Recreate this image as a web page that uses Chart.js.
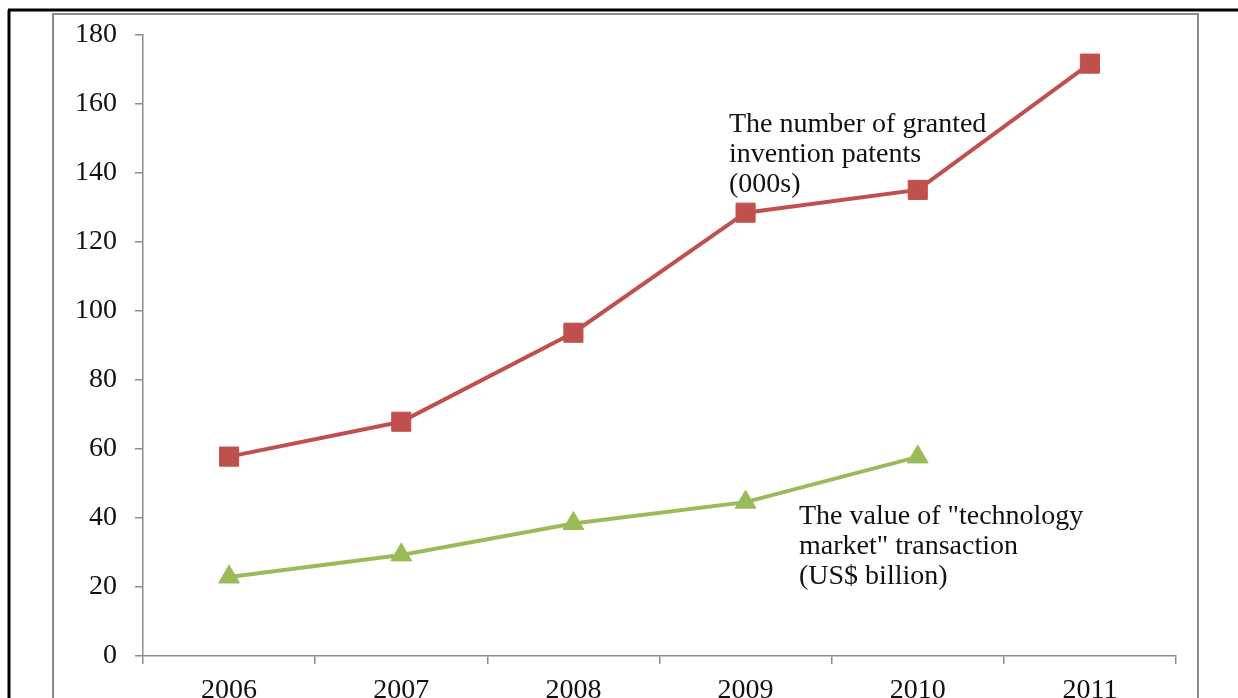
<!DOCTYPE html>
<html>
<head>
<meta charset="utf-8">
<script src="https://cdn.jsdelivr.net/npm/chart.js@4/dist/chart.umd.min.js"></script>
<style>
  html, body { margin: 0; padding: 0; background: #fff; }
  canvas { display: block; }
</style>
</head>
<body>
<canvas id="chart" width="1238" height="698"></canvas>
<script>
const years = ['2006', '2007', '2008', '2009', '2010', '2011'];
const patents = [57.8, 67.9, 93.7, 128.5, 135.1, 171.7];
const marketValue = [22.9, 29.3, 38.4, 44.6, 57.7, null];
const yTicks = [0, 20, 40, 60, 80, 100, 120, 140, 160, 180];

const patentsNote = ['The number of granted', 'invention patents', '(000s)'];
const marketNote = ['The value of "technology', 'market" transaction', '(US$ billion)'];

const SERIF = '"Liberation Serif", "Times New Roman", serif';
const axisGray = '#8c8c8c';

// page frame: black rule on top/left, grey box around the plot
const framePlugin = {
  id: 'frame',
  beforeDraw(chart) {
    const ctx = chart.ctx;
    ctx.save();
    ctx.fillStyle = '#fff';
    ctx.fillRect(0, 0, chart.width, chart.height);
    ctx.strokeStyle = '#000';
    ctx.lineWidth = 3;
    ctx.beginPath();
    ctx.moveTo(8, 10);
    ctx.lineTo(chart.width, 10);
    ctx.moveTo(9, 10);
    ctx.lineTo(9, chart.height);
    ctx.stroke();
    ctx.strokeStyle = axisGray;
    ctx.lineWidth = 2;
    ctx.beginPath();
    ctx.moveTo(53, chart.height);
    ctx.lineTo(53, 14);
    ctx.lineTo(1198, 14);
    ctx.lineTo(1198, chart.height);
    ctx.stroke();
    ctx.restore();
  }
};

// series captions placed next to their lines
const notesPlugin = {
  id: 'notes',
  afterDatasetsDraw(chart) {
    const ctx = chart.ctx;
    ctx.save();
    ctx.fillStyle = '#111';
    ctx.font = '28px ' + SERIF;
    ctx.textBaseline = 'alphabetic';
    patentsNote.forEach((t, i) => ctx.fillText(t, 729, 132 + i * 30));
    marketNote.forEach((t, i) => ctx.fillText(t, 799, 524 + i * 30));
    ctx.restore();
  }
};

new Chart(document.getElementById('chart'), {
  type: 'line',
  data: {
    labels: years,
    datasets: [
      {
        label: 'Granted invention patents (000s)',
        data: patents,
        borderColor: '#C0504D',
        backgroundColor: '#C0504D',
        borderWidth: 4,
        pointStyle: 'rect',
        pointRadius: 13.5,
        pointBorderWidth: 1,
        tension: 0
      },
      {
        label: 'Technology market transactions (US$ billion)',
        data: marketValue,
        borderColor: '#9BBB59',
        backgroundColor: '#9BBB59',
        borderWidth: 4,
        pointStyle: 'triangle',
        pointRadius: 12,
        pointBorderWidth: 1,
        tension: 0
      }
    ]
  },
  options: {
    responsive: false,
    animation: false,
    layout: { padding: { left: 0, top: 35, right: 62, bottom: 0 } },
    plugins: {
      legend: { display: false },
      tooltip: { enabled: false }
    },
    scales: {
      x: {
        offset: true,
        grid: {
          offset: true,
          drawOnChartArea: false,
          tickLength: 8,
          color: axisGray,
          lineWidth: 1.5
        },
        border: { color: axisGray, width: 1.5 },
        ticks: {
          color: '#111',
          padding: 10,
          maxRotation: 0,
          font: { family: SERIF, size: 28 }
        },
        afterFit(scale) { scale.height = 42; }
      },
      y: {
        min: 0,
        max: 180,
        afterBuildTicks(scale) {
          scale.ticks = yTicks.map(v => ({ value: v }));
        },
        grid: {
          drawOnChartArea: false,
          tickLength: 8,
          color: axisGray,
          lineWidth: 1.5
        },
        border: { color: axisGray, width: 1.5 },
        ticks: {
          color: '#111',
          padding: 18,
          font: { family: SERIF, size: 28 }
        },
        afterFit(scale) { scale.width = 143; }
      }
    }
  },
  plugins: [framePlugin, notesPlugin]
});
</script>
</body>
</html>
